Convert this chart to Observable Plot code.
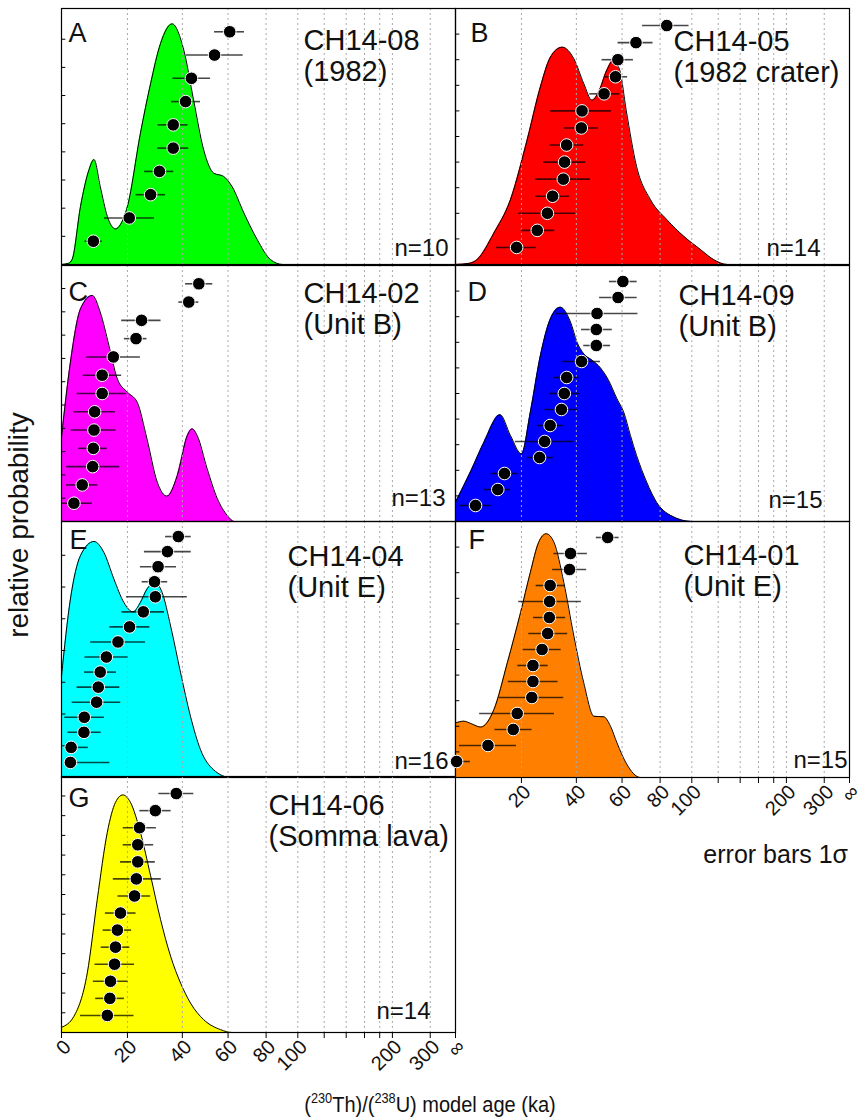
<!DOCTYPE html>
<html><head><meta charset="utf-8">
<script src="https://cdn.jsdelivr.net/npm/d3@7"></script>
<script src="https://cdn.jsdelivr.net/npm/@observablehq/plot@0.6"></script>
<style>
body{margin:0;background:#fff;}
#fig{position:relative;width:861px;height:1118px;font-family:"Liberation Sans",Arial,sans-serif;}
#fig svg{position:absolute;}
</style></head><body><div id="fig"></div>
<script>
// (230Th)/(238U) activity-ratio scale: x = 1 - exp(-lambda * age)
const LAMBDA = Math.LN2 / 75.69;
const toAR = t => 1 - Math.exp(-LAMBDA * t);

const tickAges   = [0, 20, 40, 60, 80, 100, 120, 140, 160, 180, 200, 300, Infinity];
const tickLabels = ["0","20","40","60","80","100","","","","","200","300","∞"];
const gridAges   = [20, 40, 60, 80, 100, 120, 140, 160, 180, 200, 300];

// model ages (ka): [age, lower 1σ, upper 1σ], bottom to top
const agesA = [[9.2,6.7,11.9],[20.6,12.6,29.4],[28.0,22.9,33.5],[31.2,25.9,36.6],[36.4,30.6,42.6],
  [36.4,30.7,42.3],[41.3,35.8,47.5],[43.7,36.3,51.9],[53.7,41.6,67.5],[60.8,53.7,68.2]];
const agesB = [[18.4,12.0,25.1],[25.4,20.0,31.7],[29.0,19.1,39.7],[30.9,24.9,37.4],[34.9,24.9,45.8],
  [35.4,27.6,43.8],[36.2,30.0,43.0],[42.0,35.3,49.2],[42.3,30.2,55.0],[51.7,45.5,58.9],
  [56.9,52.3,62.7],[58.0,50.8,65.6],[66.9,58.1,76.0],[83.9,70.3,98.1]];
const agesC = [[3.5,0,8.9],[5.9,1.4,10.6],[9.0,1.4,17.5],[9.2,4.9,13.5],[9.4,2.7,16.3],[9.6,3.5,16.1],
  [11.9,4.4,19.7],[11.9,6.2,18.1],[15.4,7.2,24.4],[22.9,19.0,26.7],[24.8,18.1,31.8],[42.6,38.6,46.8],[46.8,41.3,52.9]];
const agesD = [[5.7,1.4,10.4],[12.4,8.4,16.4],[14.5,10.4,18.9],[26.2,21.9,31.1],[28.0,18.0,39.0],
  [30.0,25.6,34.9],[34.2,28.1,40.5],[35.3,29.7,41.4],[36.2,31.5,41.0],[42.1,34.7,50.1],
  [48.3,43.0,54.6],[48.3,42.1,55.4],[48.6,32.2,67.9],[58.1,49.7,67.5],[60.4,54.1,67.5]];
const agesE = [[2.5,0.9,14.3],[2.7,1.4,7.7],[6.4,1.8,11.6],[6.5,0.9,12.6],[10.2,3.0,17.8],[10.7,4.4,17.5],
  [11.3,6.6,16.4],[13.2,6.7,20.2],[16.9,8.4,26.2],[20.7,14.3,27.7],[25.4,18.2,33.1],[29.7,19.7,42.0],
  [29.4,25.0,34.3],[30.7,24.4,37.7],[34.2,25.8,43.6],[38.4,33.5,43.6]];
const agesF = [[0.3,0,4.2],[9.4,1.1,18.4],[17.3,11.5,23.6],[18.6,6.9,31.6],[23.5,12.9,35.1],[23.9,15.7,32.9],
  [23.9,18.8,29.3],[27.1,20.6,34.1],[29.1,22.5,36.6],[29.7,24.1,35.8],[29.8,19.1,42.0],[30.0,25.0,35.5],
  [37.3,30.9,44.2],[37.7,31.4,44.5],[53.3,48.3,58.6]];
const agesG = [[13.5,5.4,22.2],[14.3,9.9,19.0],[14.5,9.2,20.2],[15.8,9.7,22.4],[16.1,11.6,20.8],
  [16.7,12.2,21.4],[17.7,12.9,22.9],[22.4,16.9,28.0],[23.0,15.4,31.9],[23.5,17.7,29.7],
  [23.5,18.6,29.1],[24.1,18.6,30.1],[29.7,24.2,35.6],[37.6,31.0,44.7]];

// relative probability curves: [age (ka), relative probability]
const densA = [[0,0],[2,0.005],[3,0.02],[5.4,0.227],[7.9,0.37],[9.4,0.41],[11.3,0.305],[13.5,0.188],[16.1,0.139],
  [17.7,0.156],[20.0,0.227],[24.4,0.512],[28.0,0.707],[31.6,0.863],[36.0,0.94],[40.6,0.837],[44.6,0.642],
  [48.9,0.447],[53.3,0.357],[57.9,0.344],[61.9,0.305],[67.9,0.201],[75.0,0.097],[82.6,0.019],[90,0],[Infinity,0]];
const densB = [[0,0],[4,0.005],[6.2,0.02],[11.2,0.123],[16.4,0.253],[21.9,0.486],[26.5,0.694],[30.1,0.81],
  [34.5,0.849],[39.0,0.804],[43.0,0.707],[46.4,0.642],[49.3,0.674],[52.9,0.759],[55.9,0.798],[58.9,0.759],
  [62.0,0.603],[67.2,0.383],[74.6,0.253],[84.0,0.175],[94.6,0.110],[106.3,0.058],[116,0.02],[128,0],[Infinity,0]];
const densC = [[0,0.329],[2.5,0.622],[5.4,0.831],[8.9,0.883],[11.3,0.818],[14.0,0.688],[16.7,0.557],[20.0,0.505],
  [23.3,0.466],[26.7,0.323],[30.4,0.154],[34.0,0.099],[38.0,0.180],[42.0,0.336],[44.0,0.362],[46.1,0.336],
  [50.4,0.206],[55.0,0.089],[59.7,0.023],[63,0],[Infinity,0]];
const densD = [[0,0.075],[4.2,0.193],[8.2,0.310],[13.1,0.417],[16.4,0.336],[20.0,0.264],[23.0,0.427],[26.5,0.648],
  [30.1,0.792],[33.8,0.837],[37.7,0.779],[40.3,0.700],[43.0,0.655],[46.5,0.630],[50.1,0.600],[53.5,0.555],
  [57.6,0.479],[60.8,0.427],[64.1,0.336],[67.2,0.258],[72.5,0.154],[78.0,0.075],[86.4,0.023],[100,0],[Infinity,0]];
const densE = [[0,0.396],[2.5,0.697],[5.4,0.867],[9.4,0.922],[12.4,0.880],[15.6,0.775],[18.8,0.684],[21.9,0.647],
  [24.4,0.684],[26.7,0.736],[29.4,0.762],[32.2,0.723],[35.4,0.592],[39.3,0.409],[43.3,0.239],[47.5,0.109],
  [53.3,0.030],[61.2,0],[Infinity,0]];
const densF = [[0,0.213],[2.3,0.220],[4.5,0.21],[7.2,0.197],[11.2,0.265],[15.4,0.448],[19.7,0.644],[23.0,0.801],
  [25.9,0.919],[28.6,0.952],[31.4,0.919],[35.1,0.762],[39.0,0.553],[43.0,0.370],[47.3,0.239],[51.6,0.237],
  [54.6,0.2],[57.6,0.135],[62.0,0.056],[69.2,0],[Infinity,0]];
const densG = [[0,0.020],[3.5,0.063],[7.4,0.233],[10.4,0.520],[13.5,0.782],[16.1,0.899],[18.5,0.928],[21.0,0.899],
  [24.4,0.782],[28.0,0.612],[31.6,0.442],[35.4,0.298],[39.3,0.193],[43.3,0.115],[48.9,0.050],[56.5,0.011],
  [62,0],[Infinity,0]];

const letters = ["A","B","C","D","E","F","G"];
const names = ["CH14-08\n(1982)","CH14-05\n(1982 crater)","CH14-02\n(Unit B)","CH14-09\n(Unit B)",
  "CH14-04\n(Unit E)","CH14-01\n(Unit E)","CH14-06\n(Somma lava)"];
const colors = ["#00ff00","#ff0000","#ff00ff","#0000ff","#00ffff","#ff8000","#ffff00"];
const allAges = [agesA, agesB, agesC, agesD, agesE, agesF, agesG];
const allDens = [densA, densB, densC, densD, densE, densF, densG];

// layout (pixels)
const colLeft = [61, 455], rowTop = [8, 265, 521, 776], W = 394, H = 256;
const layout = [
  {col:0,row:0,letter:[7,15], name:[242,19], n:[387,247], tick:0.110, axis:false},
  {col:1,row:0,letter:[15,15],name:[218,20], n:[365,247], tick:0.100, axis:false},
  {col:0,row:1,letter:[7,17], name:[242,15], n:[384,240], tick:0.091, axis:false},
  {col:1,row:1,letter:[12,17],name:[223,17], n:[367,242], tick:0.100, axis:false},
  {col:0,row:2,letter:[8,9],  name:[226,22], n:[387,247], tick:0.124, axis:false},
  {col:1,row:2,letter:[13,9], name:[228,21], n:[392,246], tick:0.100, axis:"noZero"},
  {col:0,row:3,letter:[7,12], name:[207,16], n:[369,242], tick:0.077, axis:"all"}
];

const fig = document.getElementById("fig");
const font = "Liberation Sans, Arial, sans-serif";

allAges.forEach((ages, k) => {
  const L = layout[k];
  const dens = allDens[k];
  const n = ages.length;
  const rank = (d, i) => (i + 1) / (n + 1);
  const ageX = d => toAR(d[0]);
  const extra = L.axis ? 62 : 0;
  const marks = [
    Plot.areaY(dens, {x: ageX, y: d => d[1], fill: colors[k], curve: "monotone-x"}),
    Plot.lineY(dens, {x: ageX, y: d => d[1], stroke: "black", strokeWidth: 1, curve: "monotone-x"}),
    Plot.ruleX(gridAges.map(toAR), {stroke: "#a8a8a8", strokeWidth: 1, strokeDasharray: "2,3"}),
    Plot.ruleY(d3.range(L.tick, 0.97, L.tick), {x1: 0, x2: 0.011, stroke: "black", strokeWidth: 1}),
    Plot.frame({stroke: "black", strokeWidth: 1.2}),
    Plot.ruleY(ages, {y: rank, x1: d => toAR(d[1]), x2: d => toAR(d[2]), stroke: "black", strokeOpacity: 0.72, strokeWidth: 1.6}),
    Plot.dot(ages, {x: ageX, y: rank, r: 6.3, fill: "black", stroke: "white", strokeWidth: 1}),
    Plot.text([letters[k]], {text: d => d, frameAnchor: "top-left", textAnchor: "start", lineAnchor: "top",
      dx: L.letter[0], dy: L.letter[1] - 1, fontSize: 27, fill: "#111"}),
    Plot.text([names[k]], {text: d => d, frameAnchor: "top-left", textAnchor: "start", lineAnchor: "top",
      lineHeight: 1.07, dx: L.name[0], dy: L.name[1], fontSize: 29, fill: "#111"}),
    Plot.text([`n=${n}`], {text: d => d, frameAnchor: "top-left", textAnchor: "end", lineAnchor: "bottom",
      dx: L.n[0], dy: L.n[1], fontSize: 24, fill: "#111"})
  ];
  if (L.axis) {
    const labelData = tickAges.map((a, i) => [a, tickLabels[i]])
      .filter(d => d[1] !== "" && !(L.axis === "noZero" && d[0] === 0));
    marks.push(
      Plot.axisX(tickAges.map(toAR), {anchor: "bottom", tickSize: 6, tickFormat: () => "", stroke: "black"}),
      Plot.text(labelData, {x: d => toAR(d[0]), text: d => d[1], frameAnchor: "bottom", rotate: -45,
        textAnchor: "end", lineAnchor: "middle", dx: 6, dy: 11, fontSize: 20, fill: "#111"})
    );
  }
  const svg = Plot.plot({
    width: W + 2, height: H + 2 + extra,
    marginLeft: 1, marginRight: 1, marginTop: 1, marginBottom: 1 + extra,
    x: {domain: [0, 1], axis: L.axis ? undefined : null},
    y: {domain: [0, 1], axis: null},
    style: {fontFamily: font, fontSize: "18px", background: "transparent", overflow: "visible"},
    marks
  });
  svg.style.left = (colLeft[L.col] - 1) + "px";
  svg.style.top = (rowTop[L.row] - 1) + "px";
  fig.appendChild(svg);
});

// titles / notes
const ns = "http://www.w3.org/2000/svg";
const ov = document.createElementNS(ns, "svg");
ov.setAttribute("width", 861); ov.setAttribute("height", 1118);
ov.style.left = "0px"; ov.style.top = "0px"; ov.style.pointerEvents = "none";
ov.innerHTML = `
  <text transform="translate(28,525) rotate(-90)" text-anchor="middle" font-size="28" fill="#111" font-family="${font}">relative probability</text>
  <text x="848" y="863" text-anchor="end" font-size="25" fill="#111" font-family="${font}">error bars 1σ</text>
  <text transform="translate(430,1112) scale(0.91,1)" text-anchor="middle" font-size="22" fill="#111" font-family="${font}">(<tspan dy="-9" font-size="14">230</tspan><tspan dy="9">Th)/(</tspan><tspan dy="-9" font-size="14">238</tspan><tspan dy="9">U) model age (ka)</tspan></text>`;
fig.appendChild(ov);
</script>
</body></html>
